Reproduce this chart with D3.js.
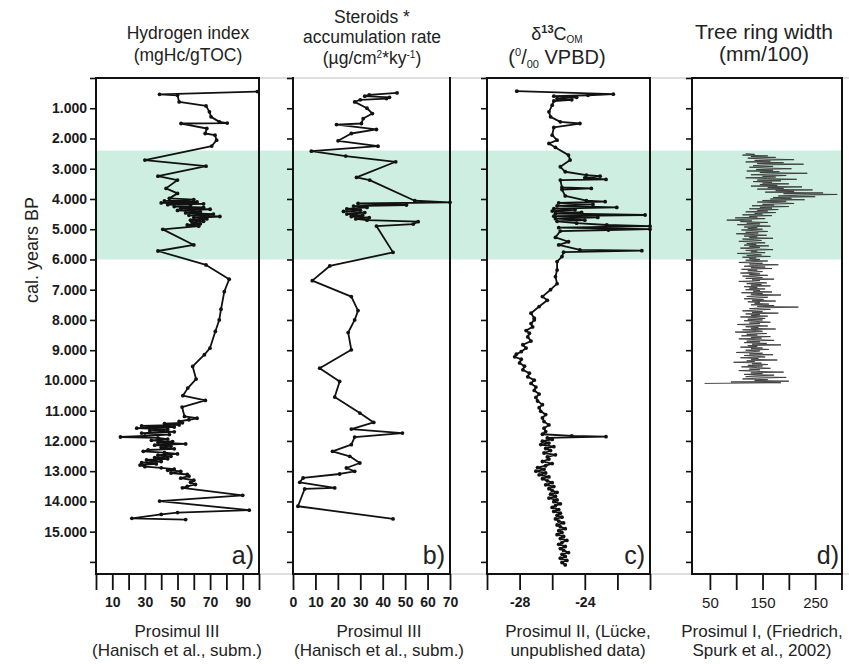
<!DOCTYPE html>
<html>
<head>
<meta charset="utf-8">
<script src="https://cdn.jsdelivr.net/npm/d3@7"></script>
<style>
  html, body { margin: 0; padding: 0; background: #ffffff; }
  svg { display: block; font-family: "Liberation Sans", Arial, Helvetica, sans-serif; }
</style>
</head>
<body>
<svg id="chart" width="849" height="664"></svg>
<script>
// ---------- age axis (cal. years BP) ----------
const ageTicks = [0, 1000, 2000, 3000, 4000, 5000, 6000, 7000, 8000, 9000, 10000, 11000, 12000, 13000, 14000, 15000, 16000];
const ageTickLabels = [1000, 2000, 3000, 4000, 5000, 6000, 7000, 8000, 9000, 10000, 11000, 12000, 13000, 14000, 15000];
const highlightBand = [2400, 6000];

// ---------- a) Hydrogen index, Prosimul III ----------
const hiAge = [450, 540, 570, 790, 922, 1120, 1285, 1450, 1490, 1505, 1670, 1835, 1890, 2055, 2250, 2715, 2915, 3245, 3375, 3650, 3815,
  3980, 4020, 4060, 4100, 4130, 4160, 4190, 4220, 4250, 4280, 4310, 4340, 4380, 4420, 4460, 4500, 4540, 4580, 4620, 4660, 4700, 4740, 4780, 4820, 4860, 4900,
  5005, 5520, 5720, 6180, 6655, 7065, 7645, 8000, 8380, 8933, 9150, 9538, 9955, 10254, 10505, 10660, 10880, 11190,
  11250, 11300, 11355, 11400, 11430, 11470, 11500, 11540, 11580, 11620, 11660, 11700, 11740, 11790, 11830, 11870, 11900, 11940, 11980, 12020, 12060, 12100, 12140, 12180, 12220, 12260, 12300, 12345, 12390, 12430, 12470, 12510, 12550, 12590, 12630, 12680, 12720, 12760, 12800, 12850, 12890, 12930, 12970, 13010, 13060, 13110, 13164, 13230, 13300, 13370, 13440, 13500, 13550, 13800, 13990, 14290, 14370, 14430, 14560, 14600];
const hiValue = [99, 39, 50, 51, 67.5, 69.6, 70.6, 75.7, 80.5, 52.2, 68, 67, 73, 74, 71, 30, 67.5, 38, 50, 43, 50,
  45, 60, 42, 62, 40, 66, 44, 58, 48, 66, 52, 70, 50, 64, 55, 72, 57, 76, 60, 68, 58, 66, 59, 64, 56, 63,
  41, 60, 38, 67.5, 81.7, 78.7, 76.7, 75.6, 73.2, 69.9, 66.5, 59.3, 61.4, 56.3, 53.3, 67.1, 52.8, 54.3,
  62, 57, 51, 53, 42, 51, 28, 48, 25, 44, 33, 48, 28, 45, 30, 15, 38, 44, 34, 47, 38, 55, 36, 46, 40, 48, 32, 29, 42, 50, 38, 46, 36, 44, 31, 40, 28, 37, 27, 30, 40, 48, 44, 52, 46, 56, 57, 52, 60, 58, 61, 56, 53, 90, 39, 94, 50, 40, 22, 55];

// ---------- b) Steroids accumulation rate, Prosimul III ----------
const stAge = [492, 560, 602, 640, 680, 720, 790, 1000, 1175, 1340, 1505, 1540, 1702, 1835, 2077, 2253, 2418, 2583, 2770, 3287, 3375, 4058, 4110, 4150, 4200, 4235, 4280, 4330, 4370, 4410, 4450, 4500, 4540, 4580, 4620, 4660, 4700, 4750, 4830, 4895, 5765, 6215, 6700, 7228, 7690, 8000, 8416, 8988, 9594, 10034, 10551, 11079, 11388, 11608, 11740, 11872, 12125, 12345, 12510, 12730, 12895, 13005, 13093, 13225, 13368, 13555, 13588, 14160, 14578];
const stValue = [46.4, 34, 32, 43, 41.7, 30, 27.5, 33, 35.4, 31.3, 30.5, 19.4, 37.2, 26, 20.1, 37.9, 8.2, 23.5, 45.8, 28.3, 34.2, 54.3, 70, 29, 50.6, 27, 33, 24, 30, 22.5, 32, 24, 31, 26, 34, 28, 33, 55.8, 53.6, 37.2, 44.6, 16.4, 8.6, 26, 29, 27.5, 24.6, 26, 11.9, 20.8, 18.6, 29.8, 36, 26, 48.8, 27.5, 26, 17.6, 25.3, 29.8, 23.8, 27.5, 20.8, 4.5, 3, 18.6, 5.2, 2.2, 44.6];

// ---------- c) d13C of organic matter, Prosimul II ----------
const dcAge = [437, 536, 570, 600, 640, 680, 720, 760, 900, 1120, 1285, 1450, 1505, 1636, 1890, 2055, 2165, 2297, 2550, 2715, 2935, 3100, 3210, 3245, 3300, 3355, 3375, 3620, 3650, 3690, 3900, 4058, 4090, 4130, 4180, 4230, 4278, 4320, 4360, 4400, 4440, 4480, 4530, 4570, 4610, 4650, 4700, 4740, 4800, 4860, 4900, 4950, 5000, 5025, 5060, 5270, 5415, 5520, 5685, 5710, 5760, 5905, 6070, 6350, 6570, 6800, 7000, 7228, 7350, 7557, 7777, 7942,
  8000, 8120, 8230, 8350, 8440, 8560, 8700, 8820, 8930, 9050, 9130, 9220, 9300, 9420, 9530, 9650, 9760, 9880, 9990, 10100, 10220, 10330, 10450, 10560, 10680, 10800, 10900, 11020, 11130, 11240, 11360, 11470, 11580, 11690, 11780, 11830, 11860, 11900, 11950, 12010, 12070, 12120, 12190, 12250, 12320, 12400, 12460, 12530, 12600, 12680, 12750, 12820, 12880, 12940, 13000, 13060, 13120, 13190, 13250, 13320, 13380, 13450, 13510, 13580, 13640, 13700, 13760, 13830, 13890, 13950, 14010, 14080, 14140, 14200, 14270, 14330, 14390, 14460, 14520, 14580, 14650, 14710, 14780, 14840, 14900, 14970, 15030, 15100, 15160, 15230, 15290, 15360, 15420, 15490, 15560, 15620, 15690, 15750, 15820, 15880, 15950, 16020, 16100];
const dcValue = [-28.17, -22.25, -23.8, -25.9, -24.5, -25.7, -24.8, -25.9, -26.0, -26.2, -26.1, -25.5, -24.3, -25.9, -26.0, -25.7, -26.2, -25.8, -25.0, -24.9, -25.5, -25.2, -23.9, -23.06, -24.0, -22.7, -25.5, -25.4, -23.6, -25.4, -25.2, -23.9, -22.75, -25.6, -23.5, -25.7, -22.04, -25.9, -24.6, -26.0, -24.2, -25.8, -20.3, -25.9, -23.2, -25.8, -24.0, -25.7, -24.5, -22.65, -20.0, -25.6, -20.0, -22.55, -25.5, -25.8, -25.0, -25.6, -24.3, -20.5, -25.3, -25.4, -25.7, -25.7, -25.8, -25.7, -26.1, -26.6, -26.3, -26.8, -27.3, -27.1,
  -27.1, -27.3, -27.2, -27.6, -27.4, -27.5, -27.3, -27.8, -27.6, -27.9, -28.2, -28.3, -27.9, -28.0, -27.7, -27.8, -27.4, -27.5, -27.1, -27.3, -27.0, -27.1, -26.8, -27.0, -26.9, -26.6, -26.8, -26.7, -26.4, -26.6, -26.5, -26.2, -26.5, -26.4, -26.6, -24.8, -22.7, -26.3, -26.0, -26.6, -26.2, -26.7, -25.9, -26.4, -26.1, -26.5, -25.8, -26.3, -26.2, -26.6, -26.0, -26.4, -26.9, -26.5, -27.0, -26.4, -26.8, -26.2, -26.6, -26.3, -26.0, -26.4, -25.9, -26.2, -26.0, -25.7, -26.1, -25.8, -26.2, -25.7, -25.9, -25.5, -25.8, -26.0, -25.6, -25.9, -25.5, -25.7, -25.4, -25.8, -25.6, -25.3, -25.7, -25.5, -25.2, -25.6, -25.4, -25.7, -25.3, -25.5, -25.1, -25.4, -25.6, -25.2, -25.5, -25.3, -25.0, -25.4, -25.2, -25.5, -25.1, -25.4, -25.2];

// ---------- d) Tree ring width, Prosimul I (25-year steps from 2500 BP) ----------
const trStartAge = 2500;
const trStep = 25;
const trWidth = [
  118, 135, 112, 160, 128, 175, 122, 150, 210, 135, 165, 118, 190, 140, 228, 150, 132, 170, 125, 155,
  205, 138, 170, 120, 182, 145, 235, 160, 128, 195, 150, 175, 118, 160, 215, 140, 185, 132, 168, 150,
  200, 145, 178, 128, 225, 160, 190, 140, 245, 175, 210, 155, 265, 190, 292, 220, 180, 250, 170, 205,
  165, 230, 150, 195, 140, 185, 210, 150, 172, 130, 200, 145, 168, 125, 180, 140, 160, 118, 175, 135,
  150, 112, 168, 125, 140, 98, 155, 118, 82, 130, 108, 160, 120, 145, 102, 138, 165, 115, 140, 122,
  150, 110, 135, 160, 118, 142, 100, 130, 158, 115, 140, 125, 170, 112, 135, 148, 105, 132, 155, 120,
  138, 115, 162, 125, 145, 108, 135, 170, 118, 140, 128, 155, 102, 132, 148, 120, 165, 112, 138, 125,
  145, 118, 160, 130, 105, 150, 125, 180, 135, 115, 155, 128, 168, 110, 140, 122, 150, 132, 108, 145,
  125, 160, 112, 138, 150, 118, 172, 130, 145, 105, 135, 158, 120, 148, 128, 165, 115, 140, 125, 155,
  118, 145, 132, 168, 110, 150, 128, 185, 135, 120, 160, 140, 115, 152, 130, 175, 122, 145, 135, 162,
  128, 172, 140, 218, 150, 125, 165, 138, 112, 150, 130, 180, 118, 145, 128, 160, 108, 140, 155, 122,
  150, 115, 138, 165, 125, 145, 102, 135, 160, 118, 142, 128, 175, 112, 138, 150, 98, 130, 158, 120,
  140, 110, 165, 128, 148, 105, 138, 172, 120, 145, 115, 158, 130, 185, 122, 140, 108, 150, 128, 162,
  118, 145, 132, 100, 150, 125, 170, 115, 138, 155, 108, 142, 128, 178, 120, 135, 95, 148, 130, 160,
  122, 150, 110, 140, 165, 125, 145, 105, 138, 190, 128, 150, 115, 172, 135, 118, 195, 140, 112, 160,
  135, 200, 90, 185, 40];
const trAge = trWidth.map((_, i) => trStartAge + i * trStep);

// ---------- x-axis ticks ----------
const hiTicks = [0, 10, 20, 30, 40, 50, 60, 70, 80, 90, 100];
const hiTickLabels = [10, 30, 50, 70, 90];
const stTicks = [0, 10, 20, 30, 40, 50, 60, 70];
const stTickLabels = [0, 10, 20, 30, 40, 50, 60, 70];
const dcTicks = [-30, -28, -26, -24, -22, -20];
const dcTickLabels = [-28, -24];
const trTicks = [50, 100, 150, 200, 250, 300];
const trTickLabels = [50, 150, 250];

// ---------- drawing ----------
const W = 849, H = 664;
const TOP = 78, BOTTOM = 574;
const svg = d3.select("#chart");
const y = d3.scaleLinear().domain([0, 16400]).range([TOP, BOTTOM]);
const thousands = d3.formatLocale({ decimal: ",", thousands: ".", grouping: [3], currency: ["", ""] }).format(",");

const panels = [
  { id: "a", x0: 96, x1: 259, domain: [0, 100], ticks: hiTicks, labels: hiTickLabels, age: hiAge, val: hiValue, dots: true, top: true, boldTicks: true,
    source: ["Prosimul III", "(Hanisch et al., subm.)"], sourceX: 177 },
  { id: "b", x0: 293, x1: 450, domain: [0, 70], ticks: stTicks, labels: stTickLabels, age: stAge, val: stValue, dots: true, top: false, boldTicks: true,
    source: ["Prosimul III", "(Hanisch et al., subm.)"], sourceX: 379 },
  { id: "c", x0: 487, x1: 650, domain: [-30, -20], ticks: dcTicks, labels: dcTickLabels, age: dcAge, val: dcValue, dots: true, top: true, boldTicks: true,
    source: ["Prosimul II, (Lücke,", "unpublished data)"], sourceX: 578 },
  { id: "d", x0: 692, x1: 842, domain: [16, 301], ticks: trTicks, labels: trTickLabels, age: trAge, val: trWidth, dots: false, top: true, boldTicks: false,
    source: ["Prosimul I, (Friedrich,", "Spurk et al., 2002)"], sourceX: 762 }
];

// shaded interval across all columns
svg.append("rect")
  .attr("x", 96).attr("width", 842 - 96)
  .attr("y", y(highlightBand[0])).attr("height", y(highlightBand[1]) - y(highlightBand[0]))
  .attr("fill", "#cdeee0");

// thin guide lines joining the columns at top and bottom
[TOP, BOTTOM].forEach(v => {
  svg.append("line").attr("x1", 96).attr("x2", W).attr("y1", v).attr("y2", v)
    .attr("stroke", "#bdbdbd").attr("stroke-width", 1);
});

panels.forEach(p => {
  const x = d3.scaleLinear().domain(p.domain).range([p.x0, p.x1]);
  const g = svg.append("g").attr("class", "panel-" + p.id);
  const pts = p.age.map((a, i) => [x(p.val[i]), y(a)]);

  g.append("path")
    .attr("d", d3.line()(pts))
    .attr("fill", "none")
    .attr("stroke", p.dots ? "#111" : "#3a3a3a")
    .attr("stroke-width", p.dots ? 1.8 : 0.9)
    .attr("stroke-linejoin", "round");

  if (p.dots) {
    g.selectAll("circle").data(pts).join("circle")
      .attr("cx", d => d[0]).attr("cy", d => d[1]).attr("r", 1.9).attr("fill", "#111");
  }

  // frame
  const frame = [[p.x0, TOP, p.x0, BOTTOM], [p.x1, TOP, p.x1, BOTTOM], [p.x0, BOTTOM, p.x1, BOTTOM]];
  if (p.top) frame.push([p.x0, TOP, p.x1, TOP]);
  frame.forEach(f => g.append("line").attr("x1", f[0]).attr("y1", f[1]).attr("x2", f[2]).attr("y2", f[3])
    .attr("stroke", "#111").attr("stroke-width", 2).attr("stroke-linecap", "square"));

  // age axis ticks on the left of every column
  const ya = g.append("g").attr("transform", `translate(${p.x0},0)`)
    .call(d3.axisLeft(y).tickValues(ageTicks).tickSize(6).tickPadding(3)
      .tickFormat(d => (p.id === "a" && ageTickLabels.includes(d)) ? thousands(d) : ""));
  ya.select(".domain").remove();
  ya.selectAll(".tick line").attr("stroke", "#111").attr("stroke-width", 1.6);
  ya.selectAll(".tick text").attr("font-size", 14).attr("font-weight", "bold").attr("fill", "#1a1a1a")
    .attr("font-family", "'Liberation Sans', Arial, sans-serif");

  // value axis along the bottom
  const xa = g.append("g").attr("transform", `translate(0,${BOTTOM})`)
    .call(d3.axisBottom(x).tickValues(p.ticks).tickSize(16).tickPadding(7)
      .tickFormat(d => p.labels.includes(d) ? String(d) : ""));
  xa.select(".domain").remove();
  xa.selectAll(".tick line").attr("stroke", "#111").attr("stroke-width", 1.8);
  xa.selectAll(".tick text").attr("font-size", p.boldTicks ? 14 : 15)
    .attr("font-weight", p.boldTicks ? "bold" : "normal").attr("fill", "#1a1a1a")
    .attr("font-family", "'Liberation Sans', Arial, sans-serif");

  // column letter
  g.append("text").attr("x", p.id === "d" ? p.x1 - 3 : p.x1 - 5).attr("y", 564)
    .attr("text-anchor", "end").attr("font-size", 25).attr("fill", "#222").text(p.id + ")");

  // data source lines
  p.source.forEach((s, i) => {
    g.append("text").attr("x", p.sourceX).attr("y", 637 + i * 19)
      .attr("text-anchor", "middle").attr("font-size", 17).attr("fill", "#222").text(s);
  });
});

// column headings
function heading(xc, yb, size) {
  return svg.append("text").attr("x", xc).attr("y", yb).attr("text-anchor", "middle")
    .attr("font-size", size).attr("fill", "#222");
}
heading(188, 39, 17.5).text("Hydrogen index");
heading(188, 61, 17.5).text("(mgHc/gTOC)");

heading(372, 23, 17.5).text("Steroids *");
heading(372, 43, 17.5).text("accumulation rate");
{
  const t = heading(372, 64, 17.5);
  t.append("tspan").text("(µg/cm");
  t.append("tspan").attr("font-size", 10).attr("dy", -6).text("2");
  t.append("tspan").attr("dy", 6).text("*ky");
  t.append("tspan").attr("font-size", 10).attr("dy", -6).text("-1");
  t.append("tspan").attr("dy", 6).text(")");
}
{
  const t = heading(557, 40, 18);
  t.append("tspan").text("δ");
  t.append("tspan").attr("font-size", 11).attr("font-weight", "bold").attr("dy", -7).text("13");
  t.append("tspan").attr("dy", 7).text("C");
  t.append("tspan").attr("font-size", 10).attr("dy", 3).text("OM");
}
{
  const t = heading(557, 64, 20);
  t.append("tspan").text("(");
  t.append("tspan").attr("font-size", 11).attr("dy", -8).text("0");
  t.append("tspan").attr("dy", 8).text("/");
  t.append("tspan").attr("font-size", 11).attr("dy", 4).text("00");
  t.append("tspan").attr("dy", -4).text(" VPBD)");
}
heading(764, 39, 21).text("Tree ring width");
heading(764, 61, 21).text("(mm/100)");

// vertical axis title
svg.append("text").attr("transform", "translate(38,250) rotate(-90)")
  .attr("text-anchor", "middle").attr("font-size", 18).attr("fill", "#222").text("cal. years BP");
</script>
</body>
</html>
